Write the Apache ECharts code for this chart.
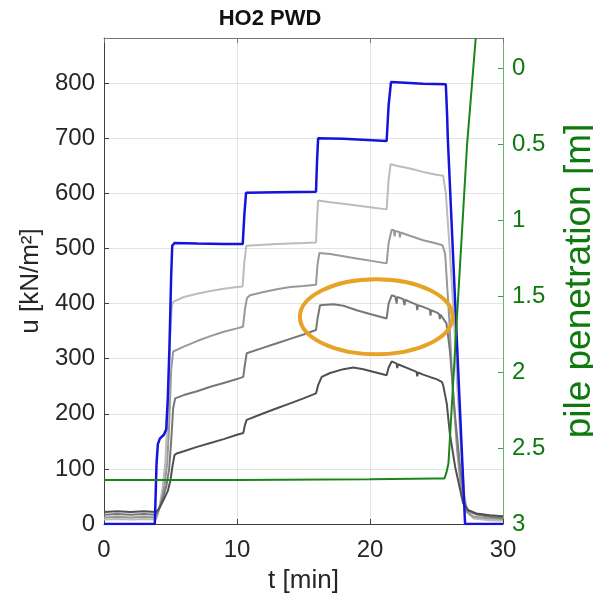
<!DOCTYPE html>
<html>
<head>
<meta charset="utf-8">
<title>HO2 PWD</title>
<script src="https://cdn.jsdelivr.net/npm/echarts@6/dist/echarts.min.js"></script>
<style>
html, body { margin: 0; padding: 0; background: #fff; }
#chart { width: 593px; height: 595px; }
</style>
</head>
<body>
<div id="chart"></div>
<script>
// ---- data (t in min, u in kN/m2, penetration in m) ----
var tTicks = [0, 10, 20, 30];
var uTicks = [0, 100, 200, 300, 400, 500, 600, 700, 800];
var penTicks = [0, 0.5, 1, 1.5, 2, 2.5, 3];

// blue: pore pressure at the top sensor
var uBlue = [[0,0],[3.82,0],[3.95,110],[4.05,145],[4.2,155],[4.5,162],[4.68,172],[4.8,230],[4.92,320],[5.05,450],[5.13,505],[5.3,510],
  [7,509],[9,508],[10.43,508],[10.55,560],[10.68,601],[13,602],[15.94,603],[16.02,660],[16.1,700],[18,699],[21.25,695],
  [21.4,760],[21.58,802],[24,799],[25.7,798],[25.8,740],[25.85,700],[27.15,0],[30,0]];

// greys, lightest to darkest
var uGrey1 = [[0,8],[1,9],[2,8],[3,9],[3.9,8],[4.0,14],[4.2,35],[4.4,65],[4.6,110],[4.8,200],[4.95,330],[5.1,395],[5.2,403],
  [6,412],[7,418],[8,423],[9,427],[10,430],[10.42,431],[10.55,475],[10.7,505],[12,507],[13,508],[14,509],[15,510],[15.94,511],
  [16.02,555],[16.1,587],[17,584],[18,581],[19,578],[20,575],[21.25,571],[21.4,625],[21.55,653],[22,650],[23,645],[24,639],[25,634],
  [25.5,632],[25.7,600],[26.0,497],[26.3,376],[26.55,255],[26.85,134],[27.1,50],[27.35,20],[27.8,10],[29,7],[30,6]];
var uGrey2 = [[0,12],[1,13],[2,12],[3,13],[3.9,12],[4.05,20],[4.3,40],[4.55,70],[4.75,110],[4.9,180],[5.05,280],[5.2,313],
  [6,322],[7,332],[8,341],[9,349],[10,355],[10.45,358],[10.6,390],[10.75,410],[10.98,415],[12,421],[13,426],[14,430],[15,432],[15.94,434],
  [16.05,470],[16.19,492],[17,490],[18,486],[19,482],[20,478],[21.25,473],[21.4,510],[21.63,534],[21.8,533],[21.85,522],[21.9,532],
  [22.2,530],[22.25,520],[22.3,529],[23,523],[24,515],[25,509],[25.45,506],[25.65,490],[25.95,376],[26.2,255],[26.55,134],[26.9,50],
  [27.27,22],[27.8,13],[29,10],[30,9]];
var uGrey3 = [[0,17],[1,18],[2,17],[3,18],[3.9,17],[4.1,25],[4.4,45],[4.7,70],[4.9,100],[5.05,150],[5.2,210],[5.35,228],
  [6,234],[7,241],[8,249],[9,256],[10,263],[10.47,267],[10.6,290],[10.73,310],[12,320],[13,328],[14,336],[15,344],[15.94,352],
  [16.05,372],[16.24,397],[17.24,399],[18,396],[19,388],[20,381],[21.25,373],[21.4,400],[21.63,415],[21.9,413],[22.0,400],[22.05,412],
  [22.5,408],[22.6,397],[22.65,407],[23,403],[23.5,398],[23.55,388],[23.6,397],[24,394],[24.5,389],[24.55,378],[24.6,388],[25,384],
  [25.2,381],[25.25,372],[25.3,380],[25.45,379],[25.75,364],[26.0,316],[26.4,195],[26.77,104],[27.1,40],[27.3,25],[28,17],[29,13],[30,11]];
var uGrey4 = [[0,22],[1,23],[2,22],[3,23],[3.9,22],[4.15,28],[4.5,45],[4.8,60],[5.0,80],[5.15,105],[5.3,125],[5.46,128],
  [6,132],[7,140],[8,147],[9,154],[10,162],[10.47,165],[10.6,180],[10.73,189],[12,201],[13,210],[14,219],[15,228],[15.94,237],
  [16.1,252],[16.37,267],[17,274],[18,281],[18.75,284],[19.5,281],[20.3,276],[21.25,270],[21.4,284],[21.63,295],[22,291],[22.05,283],
  [22.1,290],[23,281],[23.5,276],[23.55,268],[23.6,275],[24,271],[24.6,266],[25,263],[25.4,258],[25.5,252],[25.77,219],[26.0,165],
  [26.4,104],[27.0,38],[27.4,25],[28,19],[29,16],[30,14]];

// green: pile penetration (right axis, reversed)
var penetration = [[0,2.71],[10,2.71],[20,2.705],[25,2.70],[25.6,2.70],[25.75,2.66],[25.9,2.60],[27.3,0.5],[27.95,-0.2]];

// annotation ellipse: centre t, centre u, half-width (min), half-height (kN/m2)
var highlight = [[20.47, 376, 5.74, 68]];

var font = "'Liberation Sans', Arial, Helvetica, sans-serif";
var chart = echarts.init(document.getElementById('chart'), null, {renderer: 'canvas'});

function greyLine(data, color) {
  return {type: 'line', data: data, showSymbol: false, xAxisIndex: 0, yAxisIndex: 0,
    lineStyle: {color: color, width: 2}, itemStyle: {color: color}, silent: true};
}

var option = {
  animation: false,
  backgroundColor: '#fff',
  textStyle: {fontFamily: font},
  graphic: [{
    type: 'text', x: 270, y: 19,
    style: {text: 'HO2 PWD', font: 'bold 22px ' + font, fill: '#111', align: 'center', verticalAlign: 'middle'}
  }],
  grid: {left: 104, right: 90, top: 38, bottom: 71, containLabel: false, outerBoundsMode: 'none'},
  xAxis: [{
    type: 'value', position: 'bottom', min: 0, max: 30, interval: 10,
    name: 't [min]', nameLocation: 'middle', nameGap: 44,
    nameTextStyle: {fontSize: 26, color: '#262626', fontFamily: font},
    axisLine: {onZero: false, lineStyle: {color: '#404040', width: 1}},
    axisTick: {inside: true, length: 5, customValues: tTicks, lineStyle: {color: '#404040'}},
    axisLabel: {fontSize: 24, color: '#262626', margin: 14, fontFamily: font, customValues: tTicks},
    splitLine: {show: true, lineStyle: {color: '#e3e3e3', width: 1}}
  }, {
    type: 'value', position: 'top', min: 0, max: 30, interval: 10,
    axisLine: {onZero: false, lineStyle: {color: '#777', width: 1}},
    axisTick: {inside: true, length: 5, lineStyle: {color: '#777'}},
    axisLabel: {show: false},
    splitLine: {show: false}
  }],
  yAxis: [{
    type: 'value', position: 'left', min: 0, max: 882, interval: 100,
    name: 'u [kN/m²]', nameLocation: 'middle', nameGap: 54, nameRotate: 90,
    nameTextStyle: {fontSize: 26, color: '#262626', fontFamily: font},
    axisLine: {show: true, onZero: false, lineStyle: {color: '#404040', width: 1}},
    axisTick: {show: true, inside: true, length: 5, customValues: uTicks, lineStyle: {color: '#404040'}},
    axisLabel: {fontSize: 24, color: '#262626', margin: 9, fontFamily: font, customValues: uTicks},
    splitLine: {show: true, lineStyle: {color: '#e3e3e3', width: 1}}
  }, {
    type: 'value', position: 'right', min: -0.2, max: 3, inverse: true,
    name: 'pile penetration [m]', nameLocation: 'middle', nameGap: 58, nameRotate: 90,
    nameTextStyle: {fontSize: 37, color: '#0e7a0e', fontFamily: font},
    axisLine: {show: true, onZero: false, lineStyle: {color: '#6db36d', width: 1}},
    axisTick: {show: true, inside: true, length: 5, customValues: penTicks, lineStyle: {color: '#3f9a3f'}},
    axisLabel: {fontSize: 24, color: '#0e7a0e', margin: 9, fontFamily: font, customValues: penTicks},
    splitLine: {show: false}
  }],
  series: [
    greyLine(uGrey1, '#bcbcbc'),
    greyLine(uGrey2, '#999999'),
    greyLine(uGrey3, '#777777'),
    greyLine(uGrey4, '#505050'),
    {type: 'line', data: uBlue, showSymbol: false, yAxisIndex: 0,
      lineStyle: {color: '#1414dc', width: 2.5}, itemStyle: {color: '#1414dc'}, silent: true},
    {type: 'line', data: penetration, showSymbol: false, yAxisIndex: 1,
      lineStyle: {color: '#1a861a', width: 2}, itemStyle: {color: '#1a861a'}, silent: true},
    {type: 'custom', data: highlight, yAxisIndex: 0, silent: true, clip: false, z: 10,
      renderItem: function (params, api) {
        var c = api.coord([api.value(0), api.value(1)]);
        var s = api.size([api.value(2), api.value(3)]);
        return {type: 'ellipse',
          shape: {cx: c[0], cy: c[1], rx: Math.abs(s[0]), ry: Math.abs(s[1])},
          style: {fill: 'none', stroke: '#e6a325', lineWidth: 4}};
      }}
  ]
};
chart.setOption(option);
</script>
</body>
</html>
